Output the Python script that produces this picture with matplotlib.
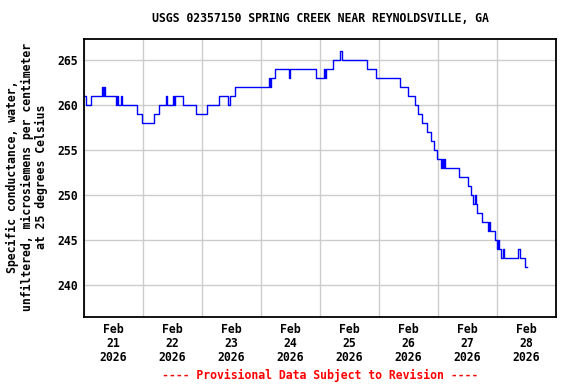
import numpy as np
import pandas as pd
import matplotlib
matplotlib.use("Agg")
import matplotlib.pyplot as plt
import matplotlib.dates as mdates

# hours after 2026-02-21 00:00 where the reading changes, and the new reading
hours = [0.0, 0.8, 2.8, 7.3, 7.7, 8.1, 8.5, 13.0, 13.4, 13.8, 15.1, 15.5,
         21.6, 23.6, 28.5, 30.5, 33.4, 33.8, 36.2, 36.6, 37.0, 40.3, 45.6,
         50.0, 54.9, 58.6, 59.4, 61.4, 75.3, 75.7, 76.1, 77.7, 83.4, 83.8,
         94.4, 97.6, 98.0, 98.4, 98.8, 101.3, 104.1, 105.0, 115.1, 118.8,
         128.5, 131.8, 134.6, 135.9, 137.5, 139.5, 141.2, 142.4, 143.6,
         145.2, 145.6, 146.0, 146.4, 146.8, 152.5, 156.2, 157.4, 158.2,
         159.1, 159.5, 159.9, 161.9, 164.3, 164.7, 165.2, 167.2, 168.0,
         168.4, 168.8, 169.6, 170.4, 170.8, 176.5, 177.3, 179.4, 180.2]
values = [261, 260, 261, 262, 261, 262, 261, 260, 261, 260, 261, 260,
          259, 258, 259, 260, 261, 260, 261, 260, 261, 260, 259,
          260, 261, 260, 261, 262, 263, 262, 263, 264, 263, 264,
          263, 264, 263, 264, 264, 265, 266, 265, 264, 263,
          262, 261, 260, 259, 258, 257, 256, 255, 254,
          253, 254, 253, 254, 253, 252, 251, 250, 249,
          250, 249, 248, 247, 246, 247, 246, 245, 244,
          245, 244, 243, 244, 243, 244, 243, 242, 242]

start = pd.Timestamp("2026-02-21 00:00")
times = start + pd.to_timedelta(hours, unit="h")

title = "USGS 02357150 SPRING CREEK NEAR REYNOLDSVILLE, GA"
ylabel = "Specific conductance, water,\nunfiltered, microsiemens per centimeter\nat 25 degrees Celsius"
footer = "---- Provisional Data Subject to Revision ----"

font = {"family": "DejaVu Sans Mono", "weight": "bold", "size": 8.3}

fig = plt.figure(figsize=(5.76, 3.84), dpi=100)
ax = fig.add_axes([84/576, 1-317/384, (556-84)/576, (317-39)/384])

ax.plot(times, values, color="#0000ff", lw=1.0, drawstyle="steps-post")

ax.set_xlim(start, start + pd.Timedelta(days=8))
ax.set_ylim(236.45, 267.35)
ax.set_yticks([240, 245, 250, 255, 260, 265])

noon = [start + pd.Timedelta(hours=12 + 24*i) for i in range(8)]
ax.set_xticks(noon)
ax.set_xticklabels([f"{t:%b}\n{t.day}\n{t.year}" for t in noon], **font, linespacing=1.1)
ax.xaxis.set_minor_locator(mdates.DayLocator())
ax.grid(False, which="major", axis="x")
ax.grid(True, which="minor", axis="x", color="#cccccc", lw=1)
ax.grid(True, which="major", axis="y", color="#cccccc", lw=1)
ax.set_axisbelow(True)
ax.tick_params(which="both", length=0)
ax.tick_params(axis="x", pad=4.5)
ax.tick_params(axis="y", pad=4)
for lab in ax.get_yticklabels():
    lab.set(**font)
for s in ax.spines.values():
    s.set_linewidth(1.3)

fig.text(320/576, 1-19/384, title, ha="center", va="center", **font)
fig.text(27/576, 1-177/384, ylabel, ha="center", va="center", rotation=90,
         linespacing=1.15, **font)
fig.text(320/576, 1-375/384, footer, ha="center", va="center", color="red", **font)

fig.savefig("out.png", dpi=100)
